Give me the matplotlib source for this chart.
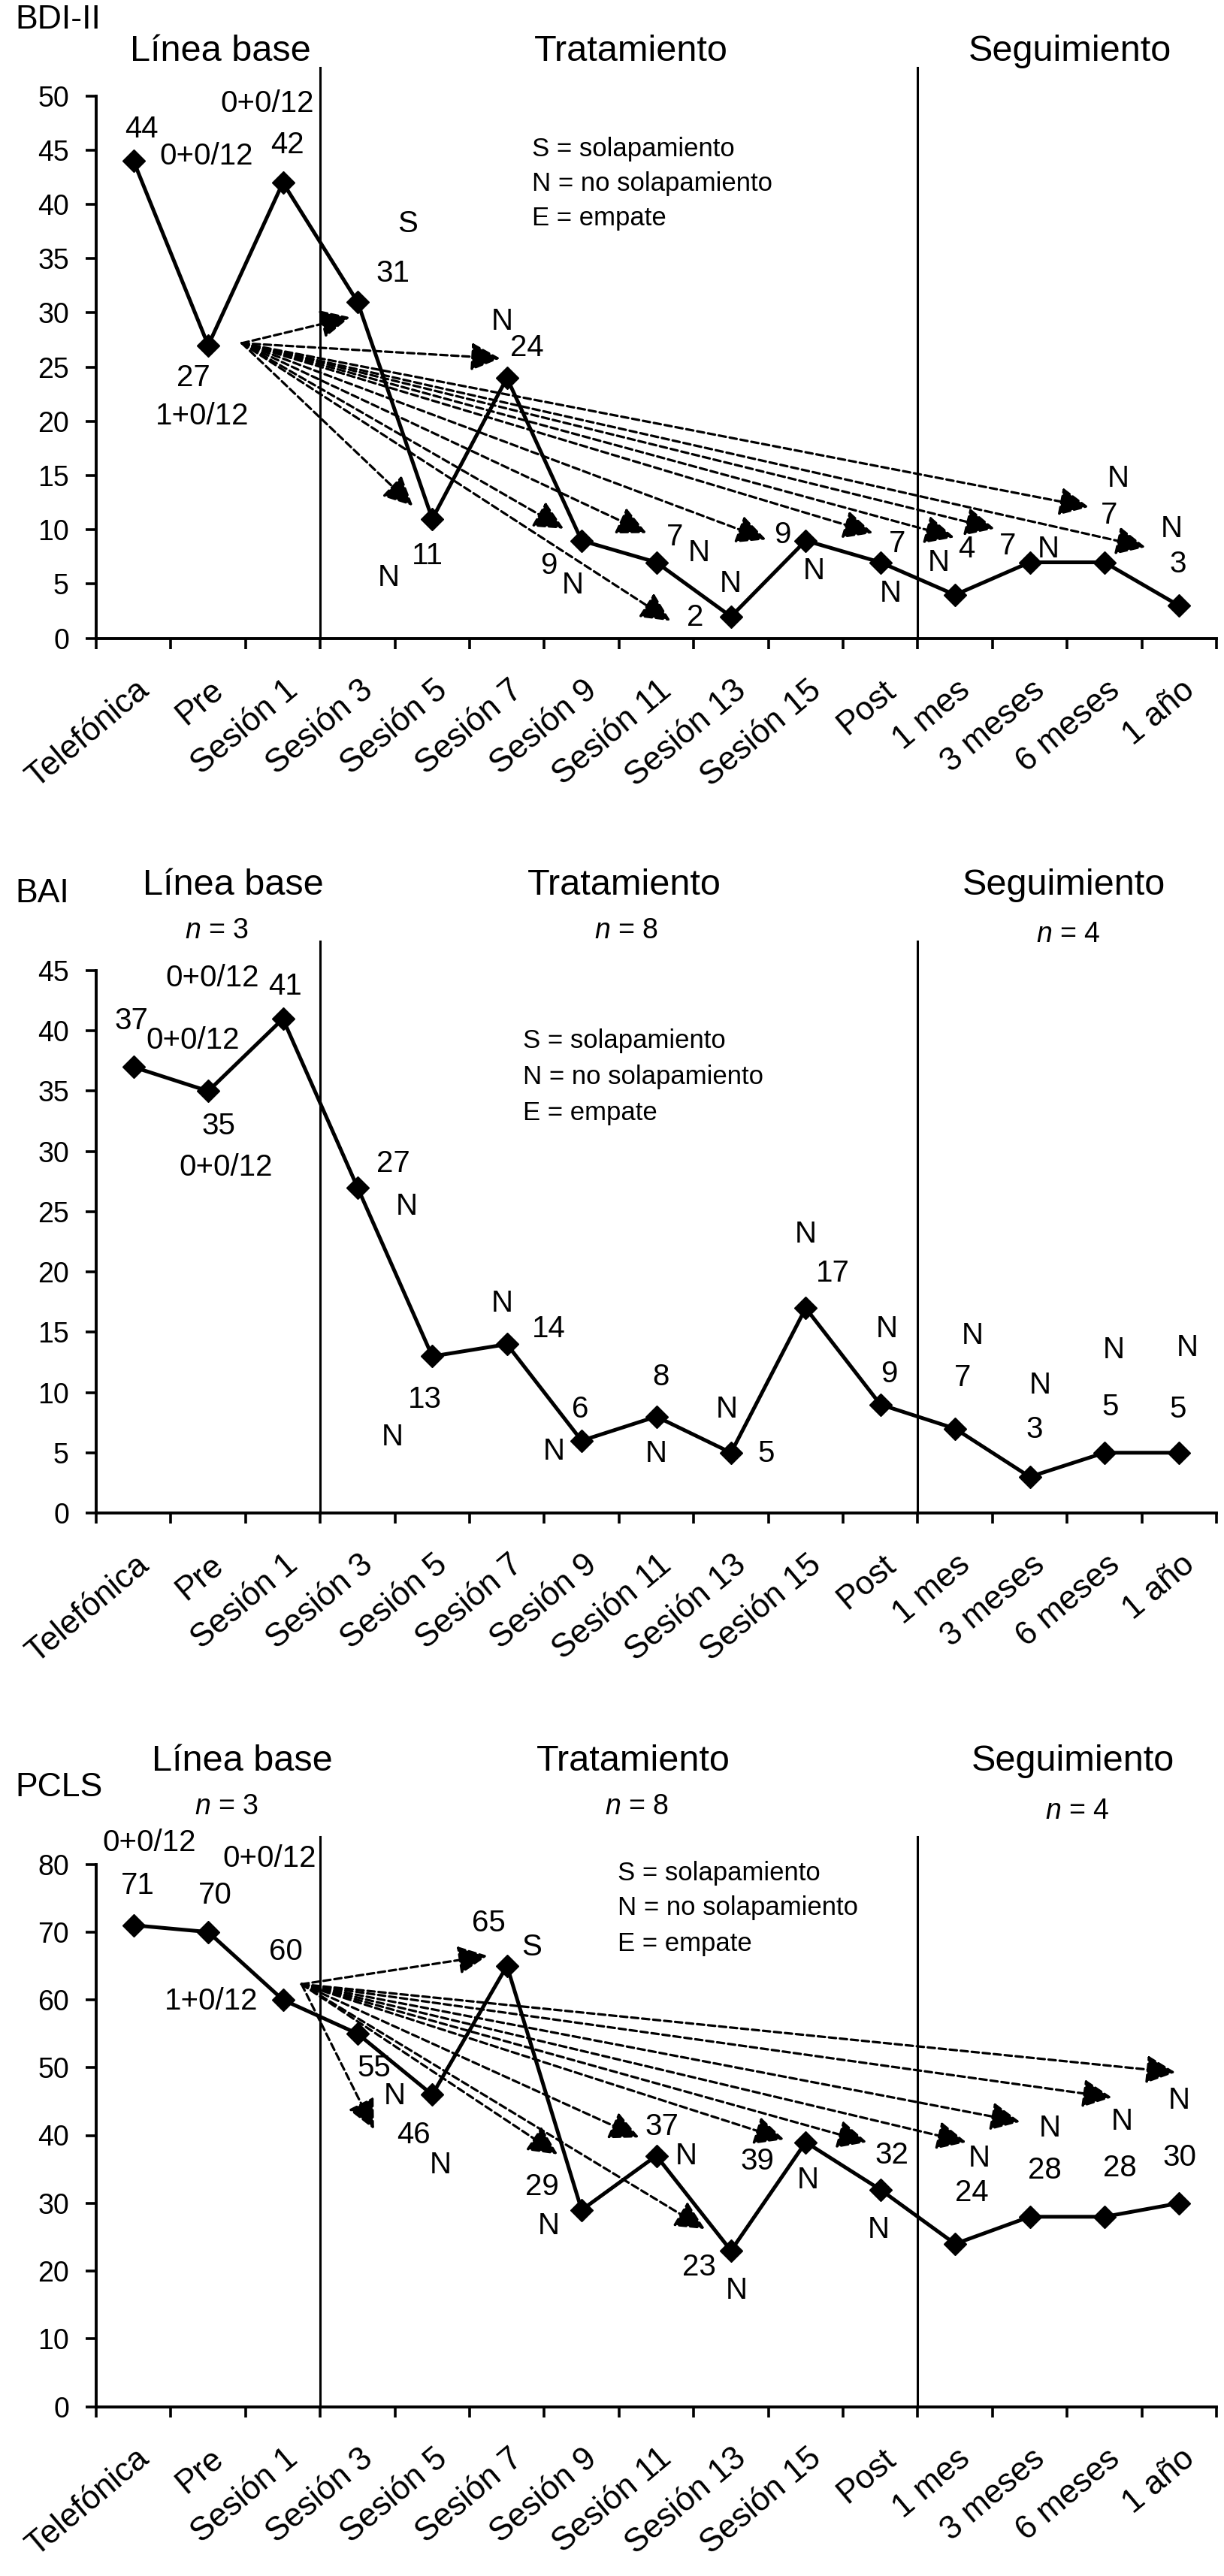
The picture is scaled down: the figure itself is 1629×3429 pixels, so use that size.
import numpy as np
import matplotlib
matplotlib.use("Agg")
import matplotlib.pyplot as plt
from matplotlib.transforms import ScaledTranslation, blended_transform_factory

plt.rcParams['font.family'] = ['Liberation Sans', 'DejaVu Sans']
plt.rcParams['mathtext.fontset'] = 'custom'
plt.rcParams['mathtext.it'] = 'Liberation Sans:italic'
plt.rcParams['mathtext.rm'] = 'Liberation Sans'

# ---------------- data ----------------
categories = ['Telefónica', 'Pre', 'Sesión 1', 'Sesión 3', 'Sesión 5', 'Sesión 7',
              'Sesión 9', 'Sesión 11', 'Sesión 13', 'Sesión 15', 'Post',
              '1 mes', '3 meses', '6 meses', '1 año']
bdi = [44, 27, 42, 31, 11, 24, 9, 7, 2, 9, 7, 4, 7, 7, 3]
bai = [37, 35, 41, 27, 13, 14, 6, 8, 5, 17, 9, 7, 3, 5, 5]
pcls = [71, 70, 60, 55, 46, 65, 29, 37, 23, 39, 32, 24, 28, 28, 30]

phase_names = ['Línea base', 'Tratamiento', 'Seguimiento']
phase_n = ['3', '8', '4']
legend_lines = ['S = solapamiento', 'N = no solapamiento', 'E = empate']

# ---------------- layout of annotations (positions in data units) ----------------
bdi_lab_off = [(0.11, 2.9), (-0.20, -3.0), (0.06, 3.5), (0.47, 2.6), (-0.06, -3.4),
               (0.27, 2.8), (-0.44, -2.3), (0.25, 2.3), (-0.48, -0.1), (-0.31, 0.5),
               (0.23, 1.7), (0.15, 4.2), (-0.30, 1.5), (0.06, 4.3), (-0.02, 3.8)]
bai_lab_off = [(-0.03, 3.8), (0.14, -2.9), (0.03, 2.7), (0.48, 2.0), (-0.10, -3.6),
               (0.56, 1.3), (-0.02, 2.6), (0.06, 3.3), (0.47, -0.1), (0.36, 2.9),
               (0.12, 2.5), (0.10, 4.2), (0.06, 3.9), (0.08, 3.8), (-0.02, 3.6)]
pcls_lab_off = [(0.06, 5.8), (0.09, 5.4), (0.04, 7.1), (0.22, -5.1), (-0.25, -5.9),
                (-0.24, 6.3), (-0.53, 3.4), (0.07, 4.3), (-0.43, -2.4), (-0.65, -2.8),
                (0.15, 5.1), (0.22, 7.5), (0.20, 6.8), (0.21, 7.2), (0.01, 6.7)]

bdi_notes = [('0+0/12', 0.98, 44.4), ('0+0/12', 1.79, 49.3), ('1+0/12', 0.92, 20.5),
             ('S', 3.67, 38.2), ('N', 4.94, 29.2), ('N', 3.42, 5.6), ('N', 5.88, 4.9),
             ('N', 7.57, 7.9), ('N', 7.99, 5.0), ('N', 9.11, 6.2), ('N', 10.14, 4.1),
             ('N', 10.78, 7.0), ('N', 12.25, 8.2), ('N', 13.18, 14.7), ('N', 13.90, 10.1)]
bai_notes = [('0+0/12', 1.06, 44.4), ('0+0/12', 0.79, 39.2), ('0+0/12', 1.24, 28.7),
             ('N', 3.66, 25.4), ('N', 4.94, 17.4), ('N', 3.47, 6.3), ('N', 5.63, 5.1),
             ('N', 9.0, 23.1), ('N', 7.00, 4.9), ('N', 7.94, 8.6), ('N', 10.09, 15.3),
             ('N', 11.23, 14.7), ('N', 12.14, 10.6), ('N', 13.12, 13.5), ('N', 14.11, 13.7)]
pcls_notes = [('0+0/12', 0.21, 83.2), ('0+0/12', 1.82, 80.8), ('1+0/12', 1.04, 59.8),
              ('S', 5.33, 67.8), ('N', 3.50, 45.8), ('N', 4.11, 35.6), ('N', 5.56, 26.7),
              ('N', 7.40, 36.9), ('N', 9.03, 33.4), ('N', 9.98, 26.1), ('N', 8.07, 17.1),
              ('N', 11.32, 36.6), ('N', 12.27, 41.0), ('N', 13.23, 42.0), ('N', 14.0, 45.2)]

bdi_arrow_start = (1.45, 27.2)
bdi_arrow_x = [2.90, 3.74, 4.91, 5.76, 6.87, 7.19, 8.47, 9.90, 10.99, 11.53, 12.79, 13.55]
bdi_arrow_y = [29.6, 12.2, 25.8, 10.1, 9.7, 1.6, 9.1, 9.7, 9.3, 10.1, 12.1, 8.4]
pcls_arrow_start = (2.25, 62.3)
pcls_arrow_x = [4.74, 3.22, 5.68, 6.77, 7.65, 8.71, 9.82, 11.15, 11.87, 13.10, 13.95]
pcls_arrow_y = [66.5, 40.9, 37.2, 39.7, 26.2, 39.4, 39.0, 39.0, 42.0, 45.6, 49.3]

W, H = 1629, 3429
fig = plt.figure(figsize=(W / 100, H / 100), dpi=100)

panels = [
    dict(title='BDI-II', vals=bdi, ymax=50, step=5, y0px=849.6, off=bdi_lab_off,
         notes=bdi_notes, arrows=(bdi_arrow_start, bdi_arrow_x, bdi_arrow_y),
         head_y=54.1, n_y=None, vtop=52.6, title_y=57.0,
         head_x=[1.16, 6.66, 12.54], n_x=None, leg=(5.34, [45.1, 41.9, 38.7])),
    dict(title='BAI', vals=bai, ymax=45, step=5, y0px=2014.0, off=bai_lab_off,
         notes=bai_notes, arrows=None,
         head_y=52.1, n_y=[48.3, 48.3, 48.0], vtop=47.4, title_y=51.4,
         head_x=[1.33, 6.57, 12.46], n_x=[1.11, 6.6, 12.51], leg=(5.21, [39.2, 36.2, 33.2])),
    dict(title='PCLS', vals=pcls, ymax=80, step=10, y0px=3203.5, off=pcls_lab_off,
         notes=pcls_notes, arrows=(pcls_arrow_start, pcls_arrow_x, pcls_arrow_y),
         head_y=95.2, n_y=[88.5, 88.5, 87.8], vtop=84.0, title_y=91.3,
         head_x=[1.46, 6.69, 12.58], n_x=[1.24, 6.74, 12.64], leg=(6.48, [78.7, 73.6, 68.3])),
]

left_px, right_px, height_px = 128, 1619, 722
FS_LAB = 29
for p in panels:
    bottom = (H - p['y0px']) / H
    ax = fig.add_axes([left_px / W, bottom, (right_px - left_px) / W, height_px / H])
    x = np.arange(len(categories))
    vals = p['vals']
    ax.plot(x, vals, color='black', lw=3.6, marker='D', ms=15, mfc='black', mec='black',
            zorder=5, clip_on=False)
    ax.set_xlim(-0.5, len(categories) - 0.5)
    ax.set_ylim(0, p['ymax'])
    for s in ['top', 'right']:
        ax.spines[s].set_visible(False)
    for s in ['left', 'bottom']:
        ax.spines[s].set_linewidth(2.8)
    ax.set_yticks(np.arange(0, p['ymax'] + 1, p['step']))
    ax.tick_params(axis='y', direction='out', length=10, width=2.6, labelsize=27, pad=16)
    ax.set_xticks(np.arange(-0.5, len(categories), 1))
    ax.set_xticklabels([])
    ax.tick_params(axis='x', which='major', direction='out', length=10, width=2.6)

    # category labels (rotated), placed under each category centre
    trans = blended_transform_factory(ax.transData, ax.transAxes) + \
        ScaledTranslation(0.15, -0.64, fig.dpi_scale_trans)
    for i, cat in enumerate(categories):
        ax.text(i, 0, cat, transform=trans, rotation=40, rotation_mode='anchor',
                ha='right', va='center', fontsize=31.5, clip_on=False)

    # phase separators
    for bx in [2.5, 10.5]:
        ax.plot([bx, bx], [0, p['vtop']], color='black', lw=2.2, clip_on=False, zorder=3)

    # value labels
    for i, v in enumerate(vals):
        dx, dy = p['off'][i]
        ax.text(i + dx, v + dy, str(v), fontsize=FS_LAB, ha='center', va='center',
                zorder=6)
    for t, tx, ty in p['notes']:
        ax.text(tx, ty, t, fontsize=FS_LAB, ha='center', va='center', zorder=6)

    # arrows
    if p['arrows'] is not None:
        (sx, sy), axs, ays = p['arrows']
        for tx, ty in zip(axs, ays):
            ax.annotate('', xy=(tx, ty), xytext=(sx, sy),
                        arrowprops=dict(arrowstyle='-|>,head_length=1.2,head_width=0.58',
                                        lw=2.3, ls=(0, (3.0, 1.6)), color='black',
                                        shrinkA=0, shrinkB=0, mutation_scale=20),
                        zorder=4, annotation_clip=False)

    # headings
    for name, hx in zip(phase_names, p['head_x']):
        ax.text(hx, p['head_y'], name, fontsize=35, ha='center', va='center', clip_on=False)
    if p['n_x'] is not None:
        for nn, nx, ny in zip(phase_n, p['n_x'], p['n_y']):
            ax.text(nx, ny, '$n$ = ' + nn, fontsize=27, ha='center', va='center')
    ax.text(-1.58, p['title_y'], p['title'], fontsize=32, ha='left', va='center')

    lx, lys = p['leg']
    for line, ly in zip(legend_lines, lys):
        ax.text(lx, ly, line, fontsize=25, ha='left', va='center')

fig.savefig('out.png', dpi=100, facecolor='white')
